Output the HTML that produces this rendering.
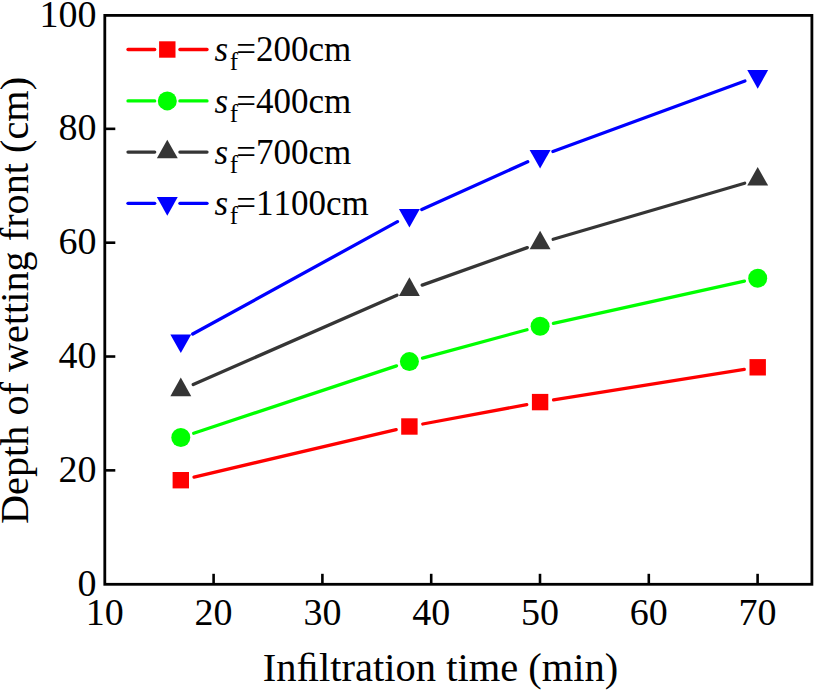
<!DOCTYPE html>
<html><head><meta charset="utf-8"><style>
html,body{margin:0;padding:0;background:#fff;}
svg{display:block;}
text{font-family:"Liberation Serif",serif;fill:#000;font-kerning:none;}
.tk{font-size:38px;}
.leg{font-size:35px;}
.ti{font-size:40.5px;}
</style></head><body>
<svg width="814" height="692" viewBox="0 0 814 692">
<rect width="814" height="692" fill="#fff"/>
<line x1="194.04" y1="477.09" x2="396.16" y2="429.61" stroke="#ff0000" stroke-width="3.3" stroke-linecap="round"/>
<line x1="422.77" y1="424.00" x2="526.73" y2="404.60" stroke="#ff0000" stroke-width="3.3" stroke-linecap="round"/>
<line x1="553.53" y1="399.95" x2="744.27" y2="369.45" stroke="#ff0000" stroke-width="3.3" stroke-linecap="round"/>
<rect x="172.60" y="472.00" width="16.4" height="16.4" fill="#ff0000"/>
<rect x="401.20" y="418.30" width="16.4" height="16.4" fill="#ff0000"/>
<rect x="531.90" y="393.90" width="16.4" height="16.4" fill="#ff0000"/>
<rect x="749.50" y="359.10" width="16.4" height="16.4" fill="#ff0000"/>
<line x1="193.71" y1="433.21" x2="396.49" y2="365.89" stroke="#00ff00" stroke-width="3.3" stroke-linecap="round"/>
<line x1="422.53" y1="358.04" x2="526.97" y2="329.76" stroke="#00ff00" stroke-width="3.3" stroke-linecap="round"/>
<line x1="553.38" y1="323.27" x2="744.42" y2="281.13" stroke="#00ff00" stroke-width="3.3" stroke-linecap="round"/>
<circle cx="180.80" cy="437.50" r="9.5" fill="#00ff00"/>
<circle cx="409.40" cy="361.60" r="9.5" fill="#00ff00"/>
<circle cx="540.10" cy="326.20" r="9.5" fill="#00ff00"/>
<circle cx="757.70" cy="278.20" r="9.5" fill="#00ff00"/>
<line x1="193.25" y1="384.54" x2="396.95" y2="295.16" stroke="#353535" stroke-width="3.3" stroke-linecap="round"/>
<line x1="422.21" y1="285.13" x2="527.29" y2="247.67" stroke="#353535" stroke-width="3.3" stroke-linecap="round"/>
<line x1="553.15" y1="239.28" x2="744.65" y2="183.22" stroke="#353535" stroke-width="3.3" stroke-linecap="round"/>
<polygon points="180.80,377.60 191.25,396.20 170.35,396.20" fill="#353535"/>
<polygon points="409.40,277.30 419.85,295.90 398.95,295.90" fill="#353535"/>
<polygon points="540.10,230.70 550.55,249.30 529.65,249.30" fill="#353535"/>
<polygon points="757.70,167.00 768.15,185.60 747.25,185.60" fill="#353535"/>
<line x1="192.72" y1="334.06" x2="397.48" y2="221.64" stroke="#0000ff" stroke-width="3.3" stroke-linecap="round"/>
<line x1="421.80" y1="209.51" x2="527.70" y2="161.79" stroke="#0000ff" stroke-width="3.3" stroke-linecap="round"/>
<line x1="552.87" y1="151.51" x2="744.93" y2="80.99" stroke="#0000ff" stroke-width="3.3" stroke-linecap="round"/>
<polygon points="180.80,353.00 191.25,334.40 170.35,334.40" fill="#0000ff"/>
<polygon points="409.40,227.50 419.85,208.90 398.95,208.90" fill="#0000ff"/>
<polygon points="540.10,168.60 550.55,150.00 529.65,150.00" fill="#0000ff"/>
<polygon points="757.70,88.70 768.15,70.10 747.25,70.10" fill="#0000ff"/>
<line x1="128.0" y1="49.5" x2="154.70000000000002" y2="49.5" stroke="#ff0000" stroke-width="3.3" stroke-linecap="round"/>
<line x1="179.9" y1="49.5" x2="207.0" y2="49.5" stroke="#ff0000" stroke-width="3.3" stroke-linecap="round"/>
<rect x="159.10" y="41.30" width="16.4" height="16.4" fill="#ff0000"/>
<text x="214.4" y="61.3" class="leg" font-style="italic">s</text>
<text x="229.7" y="70.3" font-size="25">f</text>
<text x="236.3" y="61.3" class="leg">=200cm</text>
<line x1="128.0" y1="100.9" x2="154.70000000000002" y2="100.9" stroke="#00ff00" stroke-width="3.3" stroke-linecap="round"/>
<line x1="179.9" y1="100.9" x2="207.0" y2="100.9" stroke="#00ff00" stroke-width="3.3" stroke-linecap="round"/>
<circle cx="167.30" cy="100.90" r="9.5" fill="#00ff00"/>
<text x="214.4" y="112.7" class="leg" font-style="italic">s</text>
<text x="229.7" y="121.7" font-size="25">f</text>
<text x="236.3" y="112.7" class="leg">=400cm</text>
<line x1="128.0" y1="152.1" x2="154.70000000000002" y2="152.1" stroke="#353535" stroke-width="3.3" stroke-linecap="round"/>
<line x1="179.9" y1="152.1" x2="207.0" y2="152.1" stroke="#353535" stroke-width="3.3" stroke-linecap="round"/>
<polygon points="167.30,139.70 177.75,158.30 156.85,158.30" fill="#353535"/>
<text x="214.4" y="163.9" class="leg" font-style="italic">s</text>
<text x="229.7" y="172.9" font-size="25">f</text>
<text x="236.3" y="163.9" class="leg">=700cm</text>
<line x1="128.0" y1="203.3" x2="154.70000000000002" y2="203.3" stroke="#0000ff" stroke-width="3.3" stroke-linecap="round"/>
<line x1="179.9" y1="203.3" x2="207.0" y2="203.3" stroke="#0000ff" stroke-width="3.3" stroke-linecap="round"/>
<polygon points="167.30,215.70 177.75,197.10 156.85,197.10" fill="#0000ff"/>
<text x="214.4" y="215.1" class="leg" font-style="italic">s</text>
<text x="229.7" y="224.1" font-size="25">f</text>
<text x="236.3" y="215.1" class="leg">=1100cm</text>
<rect x="104.8" y="15.4" width="707.1" height="568.9" fill="none" stroke="#000" stroke-width="2.8"/>
<line x1="213.60" y1="584.3" x2="213.60" y2="573.8" stroke="#000" stroke-width="2.6"/>
<line x1="322.40" y1="584.3" x2="322.40" y2="573.8" stroke="#000" stroke-width="2.6"/>
<line x1="431.20" y1="584.3" x2="431.20" y2="573.8" stroke="#000" stroke-width="2.6"/>
<line x1="540.00" y1="584.3" x2="540.00" y2="573.8" stroke="#000" stroke-width="2.6"/>
<line x1="648.80" y1="584.3" x2="648.80" y2="573.8" stroke="#000" stroke-width="2.6"/>
<line x1="757.60" y1="584.3" x2="757.60" y2="573.8" stroke="#000" stroke-width="2.6"/>
<line x1="104.8" y1="470.36" x2="115.3" y2="470.36" stroke="#000" stroke-width="2.6"/>
<line x1="104.8" y1="356.52" x2="115.3" y2="356.52" stroke="#000" stroke-width="2.6"/>
<line x1="104.8" y1="242.68" x2="115.3" y2="242.68" stroke="#000" stroke-width="2.6"/>
<line x1="104.8" y1="128.84" x2="115.3" y2="128.84" stroke="#000" stroke-width="2.6"/>
<text x="104.80" y="625" class="tk" text-anchor="middle">10</text>
<text x="213.60" y="625" class="tk" text-anchor="middle">20</text>
<text x="322.40" y="625" class="tk" text-anchor="middle">30</text>
<text x="431.20" y="625" class="tk" text-anchor="middle">40</text>
<text x="540.00" y="625" class="tk" text-anchor="middle">50</text>
<text x="648.80" y="625" class="tk" text-anchor="middle">60</text>
<text x="757.60" y="625" class="tk" text-anchor="middle">70</text>
<text x="96.5" y="595.80" class="tk" text-anchor="end">0</text>
<text x="96.5" y="481.96" class="tk" text-anchor="end">20</text>
<text x="96.5" y="368.12" class="tk" text-anchor="end">40</text>
<text x="96.5" y="254.28" class="tk" text-anchor="end">60</text>
<text x="96.5" y="140.44" class="tk" text-anchor="end">80</text>
<text x="96.5" y="26.60" class="tk" text-anchor="end">100</text>
<text x="440.6" y="681.3" class="ti" text-anchor="middle">In&#xFB01;ltration time (min)</text>
<text transform="translate(28.3,300.5) rotate(-90)" x="0" y="0" class="ti" style="font-size:40.25px" text-anchor="middle">Depth of wetting front (cm)</text>
</svg>
</body></html>
